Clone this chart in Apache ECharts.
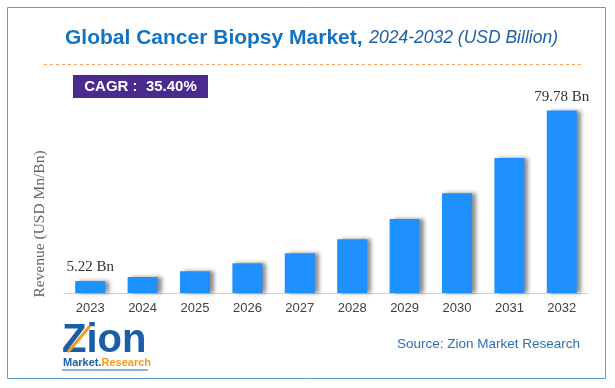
<!DOCTYPE html>
<html><head><meta charset="utf-8">
<script src="https://cdn.jsdelivr.net/npm/echarts@6/dist/echarts.min.js"></script>
<style>html,body{margin:0;padding:0;background:#fff}#c{width:615px;height:388px}</style>
</head><body><div id="c"></div>
<script>
const categories = ['2023','2024','2025','2026','2027','2028','2029','2030','2031','2032'];
const revenue = [5.22, 7.0, 9.5, 13.0, 17.4, 23.5, 32.3, 43.6, 59.0, 79.78];
const labelIndexes = [0, 9];

const chart = echarts.init(document.getElementById('c'));
chart.setOption({
  animation: false,
  backgroundColor: '#fff',
  grid: { left: 64, right: 27, top: 110, bottom: 95 },
  xAxis: {
    type: 'category', data: categories,
    axisLine: { lineStyle: { color: '#d0d0d0', width: 1 } },
    axisTick: { show: false },
    axisLabel: { color: '#404040', fontSize: 13, fontFamily: 'Liberation Sans', margin: 9 }
  },
  yAxis: {
    type: 'value', min: 0, max: 80,
    show: false
  },
  series: [{
    type: 'bar', data: revenue, barWidth: 30,
    itemStyle: { color: '#1e90ff', shadowColor: 'rgba(0,0,0,0.45)', shadowOffsetX: 4, shadowOffsetY: 0, shadowBlur: 4 },
    label: {
      show: true, position: 'top', distance: 6,
      fontFamily: 'Liberation Serif', fontSize: 15, color: '#333',
      formatter: p => labelIndexes.includes(p.dataIndex) ? p.value + ' Bn' : ''
    }
  }],
  graphic: [
    { type: 'rect', shape: { x: 7.5, y: 7.5, width: 598, height: 371 }, style: { fill: 'none', stroke: '#5b9bd5', lineWidth: 1 }, silent: true },
    { type: 'text', x: 65, y: 38, style: {
        text: '{a|Global Cancer Biopsy Market,}  {b|2024-2032 (USD Billion)}',
        verticalAlign: 'middle',
        rich: {
          a: { fontFamily: 'Liberation Sans', fontWeight: 'bold', fontSize: 21, fill: '#1273c4' },
          b: { fontFamily: 'Liberation Sans', fontStyle: 'italic', fontSize: 17.5, fill: '#1f5fa8' }
        } } },
    { type: 'line', shape: { x1: 44, y1: 64.5, x2: 581, y2: 64.5 }, style: { stroke: '#f4a460', lineWidth: 1, lineDash: [3, 3] } },
    { type: 'rect', shape: { x: 73, y: 75, width: 135, height: 23 }, style: { fill: '#4b2a8f' } },
    { type: 'text', x: 140.5, y: 87, style: { text: 'CAGR :  35.40%', fill: '#fff', fontFamily: 'Liberation Sans', fontWeight: 'bold', fontSize: 15, align: 'center', verticalAlign: 'middle' } },
    { type: 'text', x: 40, y: 224, rotation: Math.PI / 2, style: { text: 'Revenue (USD Mn/Bn)', fill: '#666', fontFamily: 'Liberation Serif', fontSize: 15.5, align: 'center', verticalAlign: 'middle' } },
    { type: 'text', x: 62, y: 341, style: { text: 'Zion', fill: '#1a5ea8', fontFamily: 'Liberation Sans', fontWeight: 'bold', fontSize: 40, verticalAlign: 'middle' } },
    { type: 'line', shape: { x1: 68, y1: 352, x2: 90, y2: 326 }, style: { stroke: '#f39c1f', lineWidth: 3 } },
    { type: 'text', x: 63, y: 363, style: {
        text: '{m|Market.}{r|Research}', verticalAlign: 'middle',
        rich: {
          m: { fontFamily: 'Liberation Sans', fontWeight: 'bold', fontSize: 11, fill: '#1a5ea8' },
          r: { fontFamily: 'Liberation Sans', fontWeight: 'bold', fontSize: 11, fill: '#f39c1f' }
        } } },
    { type: 'line', shape: { x1: 62, y1: 370, x2: 148, y2: 370 }, style: { stroke: '#1a5ea8', lineWidth: 1 } },
    { type: 'text', x: 580, y: 344, style: { text: 'Source: Zion Market Research', fill: '#2e6eb5', fontFamily: 'Liberation Sans', fontSize: 13.5, align: 'right', verticalAlign: 'middle' } }
  ]
});
</script></body></html>
